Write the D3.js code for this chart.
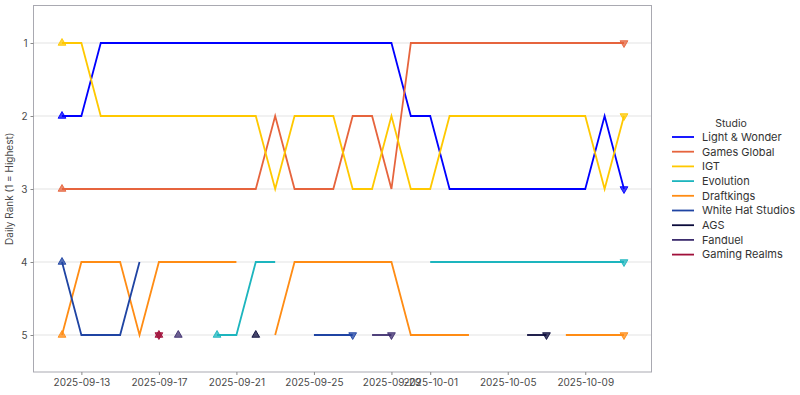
<!DOCTYPE html>
<html>
<head>
<meta charset="utf-8">
<script src="https://cdn.jsdelivr.net/npm/d3@7"></script>
<style>
  body { margin: 0; background: #fff; }
  svg { font-family: Inter, "DejaVu Sans", sans-serif; }
</style>
</head>
<body>
<svg id="chart" width="800" height="395"></svg>
<script>
// days 2025-09-12 .. 2025-10-11
const dates = d3.utcDays(new Date(Date.UTC(2025, 8, 12)), new Date(Date.UTC(2025, 9, 12)));

const studios = ["Light & Wonder", "Games Global", "IGT", "Evolution", "Draftkings",
                 "White Hat Studios", "AGS", "Fanduel", "Gaming Realms"];

const colors = ["#0000ff", "#e6643d", "#ffc800", "#1db5be", "#ff8c14",
                "#1f44a3", "#0b0b3b", "#3d2d6e", "#a0103a"];

const n = null;
const lightWonder = [2,2,1,1,1,1,1,1,1,1,1,1,1,1,1,1,1,1,2,2,3,3,3,3,3,3,3,3,2,3];
const gamesGlobal = [3,3,3,3,3,3,3,3,3,3,3,2,3,3,3,2,2,3,1,1,1,1,1,1,1,1,1,1,1,1];
const igt         = [1,1,2,2,2,2,2,2,2,2,2,3,2,2,2,3,3,2,3,3,2,2,2,2,2,2,2,2,3,2];
const evolution   = [n,n,n,n,n,n,n,n,5,5,4,4,n,n,n,n,n,n,n,4,4,4,4,4,4,4,4,4,4,4];
const draftkings  = [5,4,4,4,5,4,4,4,4,4,n,5,4,4,4,4,4,4,5,5,5,5,n,n,n,n,5,5,5,5];
const whiteHat    = [4,5,5,5,4,n,n,n,n,n,n,n,n,5,5,5,n,n,n,n,n,n,n,n,n,n,n,n,n,n];
const ags         = [n,n,n,n,n,n,n,n,n,n,5,n,n,n,n,n,n,n,n,n,n,n,n,n,5,5,n,n,n,n];
const fanduel     = [n,n,n,n,n,n,5,n,n,n,n,n,n,n,n,n,5,5,n,n,n,n,n,n,n,n,n,n,n,n];
const gamingRealms= [n,n,n,n,n,5,n,n,n,n,n,n,n,n,n,n,n,n,n,n,n,n,n,n,n,n,n,n,n,n];

const ranks = [lightWonder, gamesGlobal, igt, evolution, draftkings, whiteHat, ags, fanduel, gamingRealms];

const xTicks = ["2025-09-13", "2025-09-17", "2025-09-21", "2025-09-25",
                "2025-09-29", "2025-10-01", "2025-10-05", "2025-10-09"];
const yTicks = [1, 2, 3, 4, 5];

var svg = d3.select("#chart");

var panel = {left: 33.5, right: 651.5, top: 5.5, bottom: 372};

var x = d3.scaleUtc()
    .domain([dates[0], dates[dates.length - 1]])
    .range([62, 624]);

var y = d3.scaleLinear()
    .domain([1, 5])
    .range([43, 335]);

// grid
svg.append("g")
    .selectAll("line")
    .data(yTicks)
    .enter()
    .append("line")
    .attr("x1", panel.left)
    .attr("x2", panel.right)
    .attr("y1", d => y(d))
    .attr("y2", d => y(d))
    .attr("stroke", "#e3e3e3")
    .attr("stroke-width", 1.1);

// panel border
svg.append("rect")
    .attr("x", panel.left)
    .attr("y", panel.top)
    .attr("width", panel.right - panel.left)
    .attr("height", panel.bottom - panel.top)
    .attr("fill", "none")
    .attr("stroke", "#a9a9b1")
    .attr("stroke-width", 1);

// axes
var parse = d3.utcParse("%Y-%m-%d");

var xAxis = svg.append("g")
    .attr("transform", "translate(0," + panel.bottom + ")")
    .call(d3.axisBottom(x)
        .tickValues(xTicks.map(parse))
        .tickFormat(d3.utcFormat("%Y-%m-%d"))
        .tickSize(3)
        .tickPadding(4));

var yAxis = svg.append("g")
    .attr("transform", "translate(" + panel.left + ",0)")
    .call(d3.axisLeft(y)
        .tickValues(yTicks)
        .tickFormat(d3.format("d"))
        .tickSize(3)
        .tickPadding(3));

[xAxis, yAxis].forEach(function(a) {
    a.select(".domain").remove();
    a.selectAll(".tick line").attr("stroke", "#8a8a8a");
    a.selectAll(".tick text")
        .attr("fill", "#4a4a4a")
        .style("font-size", "10px")
        .style("font-family", "Inter, sans-serif");
});

svg.append("text")
    .attr("transform", "translate(13," + ((panel.top + panel.bottom) / 2) + ") rotate(-90)")
    .attr("text-anchor", "middle")
    .attr("fill", "#4a4a4a")
    .style("font-size", "10px")
    .text("Daily Rank (1 = Highest)");

// lines
var line = d3.line()
    .defined(d => d != null)
    .x((d, i) => x(dates[i]))
    .y(d => y(d));

var series = ranks.map(function(r, k) {
    var idx = r.map((v, i) => v == null ? -1 : i).filter(i => i >= 0);
    return {name: studios[k], color: colors[k], values: r,
            first: idx[0], last: idx[idx.length - 1]};
});

svg.append("g")
    .selectAll("path")
    .data(series)
    .enter()
    .append("path")
    .attr("d", d => line(d.values))
    .attr("fill", "none")
    .attr("stroke", d => d.color)
    .attr("stroke-width", 1.8);

// start / end markers
var tri = d3.symbol().type(d3.symbolTriangle).size(26);
var markers = [];
series.forEach(function(s) {
    markers.push({color: s.color, i: s.first, v: s.values[s.first], rot: 0});
    markers.push({color: s.color, i: s.last, v: s.values[s.last], rot: 180});
});

svg.append("g")
    .selectAll("path")
    .data(markers)
    .enter()
    .append("path")
    .attr("d", tri)
    .attr("transform", d => "translate(" + x(dates[d.i]) + "," + y(d.v) + ") rotate(" + d.rot + ")")
    .attr("fill", d => d.color)
    .attr("fill-opacity", 0.75)
    .attr("stroke", d => d.color)
    .attr("stroke-width", 0.9);

// legend
var legend = svg.append("g").attr("transform", "translate(672,0)");

legend.append("text")
    .attr("x", 59)
    .attr("y", 127)
    .attr("text-anchor", "middle")
    .attr("fill", "#333")
    .style("font-size", "10.5px")
    .text("Studio");

var item = legend.selectAll("g.item")
    .data(series)
    .enter()
    .append("g")
    .attr("class", "item")
    .attr("transform", (d, i) => "translate(0," + (137 + i * 14.7) + ")");

item.append("line")
    .attr("x1", 0)
    .attr("x2", 22)
    .attr("stroke", d => d.color)
    .attr("stroke-width", 1.8);

item.append("text")
    .attr("x", 30)
    .attr("dy", "0.35em")
    .attr("fill", "#333")
    .style("font-size", "11px")
    .text(d => d.name);
</script>
</body>
</html>
